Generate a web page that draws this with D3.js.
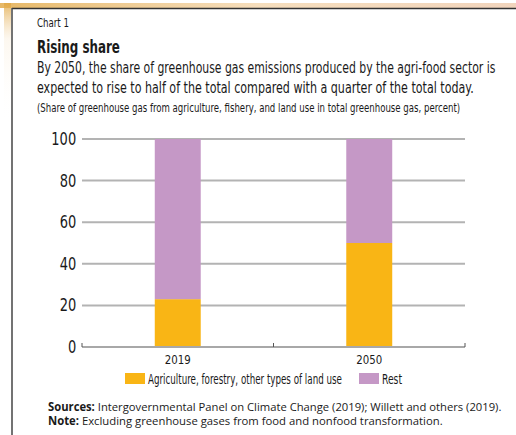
<!DOCTYPE html>
<html>
<head>
<meta charset="utf-8">
<script src="https://cdn.jsdelivr.net/npm/d3@7"></script>
<style>
  body { margin: 0; background: #fff; }
  svg { display: block; }
  text { font-family: "Liberation Sans Narrow", "DejaVu Sans Condensed", sans-serif; fill: #1a1a1a; }
</style>
</head>
<body>
<div id="app-chart"></div>
<script>
let years = ["2019", "2050"]
let agriculture = [23, 50]
let rest = [77, 50]
let seriesNames = ["Agriculture, forestry, other types of land use", "Rest"]
let yTicks = [0, 20, 40, 60, 80, 100]

let svgW = 516
let svgH = 435

let margin = { left: 82, right: 51, top: 139, bottom: 88 }
let chartW = svgW - margin.left - margin.right
let chartH = svgH - margin.top - margin.bottom

let color = d3.scaleOrdinal()
  .domain(seriesNames)
  .range(["#f9b515", "#c598c6"])

let data = years.map((y, i) => ({ year: y, [seriesNames[0]]: agriculture[i], [seriesNames[1]]: rest[i] }))
let stacked = d3.stack().keys(seriesNames)(data)

let x = d3.scaleBand()
  .domain(years)
  .range([0, chartW])
  .paddingInner(0.76)
  .paddingOuter(0.38)

let y = d3.scaleLinear()
  .domain([0, 100])
  .range([chartH, 0])

let svg = d3.select("#app-chart")
  .append("svg")
  .attr("width", svgW)
  .attr("height", svgH)

// scanned frame: orange glow and dark rule at top / left
let defs = svg.append("defs")
let gTop = defs.append("linearGradient").attr("id", "glowTop").attr("x1", 0).attr("x2", 1)
gTop.append("stop").attr("offset", "0").attr("stop-color", "#e0a640").attr("stop-opacity", 0.8)
gTop.append("stop").attr("offset", "0.5").attr("stop-color", "#f0c890").attr("stop-opacity", 0.6)
gTop.append("stop").attr("offset", "1").attr("stop-color", "#e8b890").attr("stop-opacity", 0.6)
let gLeft = defs.append("linearGradient").attr("id", "glowLeft").attr("x1", 0).attr("x2", 0).attr("y1", 0).attr("y2", 1)
gLeft.append("stop").attr("offset", "0").attr("stop-color", "#e0a640").attr("stop-opacity", 0.8)
gLeft.append("stop").attr("offset", "0.3").attr("stop-color", "#f3d9b0").attr("stop-opacity", 0.2)
gLeft.append("stop").attr("offset", "1").attr("stop-color", "#fff").attr("stop-opacity", 0)

svg.append("rect").attr("x", 0).attr("y", 3).attr("width", svgW).attr("height", 5).attr("fill", "url(#glowTop)")
svg.append("rect").attr("x", 4).attr("y", 3).attr("width", 7).attr("height", 120).attr("fill", "url(#glowLeft)")
svg.append("line").attr("x1", 12).attr("x2", svgW).attr("y1", 8.5).attr("y2", 8.5).attr("stroke", "#333").attr("stroke-width", 1.5)
svg.append("line").attr("x1", 12).attr("x2", 12).attr("y1", 8).attr("y2", svgH).attr("stroke", "#444").attr("stroke-width", 1.5)

// squeeze a text horizontally so it spans w pixels (condensed face of the original)
function fitText(sel, w) {
  let len = sel.node().getComputedTextLength()
  let x0 = +sel.attr("x"), y0 = +sel.attr("y")
  sel.attr("x", 0).attr("y", 0)
    .attr("transform", `translate(${x0},${y0}) scale(${(w / len).toFixed(4)},1)`)
}

svg.append("text").attr("x", 37).attr("y", 27).attr("font-size", 11.5).text("Chart 1").call(fitText, 32)
svg.append("text").attr("x", 37).attr("y", 53).attr("font-size", 18.5).attr("font-weight", "bold").text("Rising share").call(fitText, 83)
svg.append("text").attr("x", 37).attr("y", 73).attr("font-size", 15.5)
  .text("By 2050, the share of greenhouse gas emissions produced by the agri-food sector is").call(fitText, 459)
svg.append("text").attr("x", 37).attr("y", 93).attr("font-size", 15.5)
  .text("expected to rise to half of the total compared with a quarter of the total today.").call(fitText, 437)
svg.append("text").attr("x", 37).attr("y", 112).attr("font-size", 11.5)
  .text("(Share of greenhouse gas from agriculture, fishery, and land use in total greenhouse gas, percent)").call(fitText, 424)

let group = svg.append("g")
  .attr("transform", `translate(${margin.left},${margin.top})`)

// gridlines
group.append("g")
  .selectAll("line")
  .data(yTicks.filter(d => d > 0))
  .enter()
  .append("line")
  .attr("x1", 0)
  .attr("x2", chartW)
  .attr("y1", d => y(d))
  .attr("y2", d => y(d))
  .attr("stroke", "#b3b3b3")
  .attr("stroke-width", 2)

let yAxis = d3.axisLeft(y).tickValues(yTicks).tickSize(0).tickPadding(5)
group.append("g")
  .attr("class", "y axis")
  .call(yAxis)
  .call(g => g.select(".domain").remove())
  .selectAll("text")
  .attr("font-size", 17)
  .attr("font-family", "\"Liberation Sans Narrow\", \"DejaVu Sans Condensed\", sans-serif")
  .attr("fill", "#1a1a1a")
  .attr("transform", "translate(-5,0) scale(0.85,1)")
  .attr("x", -1)

// bars
group.selectAll(".series")
  .data(stacked)
  .enter()
  .append("g")
  .attr("class", "series")
  .attr("fill", d => color(d.key))
  .selectAll("rect")
  .data(d => d)
  .enter()
  .append("rect")
  .attr("x", d => x(d.data.year))
  .attr("width", x.bandwidth())
  .attr("y", d => y(d[1]))
  .attr("height", d => y(d[0]) - y(d[1]))

// x axis: baseline with short upward ticks at band edges
let xAxisG = group.append("g").attr("transform", `translate(0, ${chartH})`)
xAxisG.append("line")
  .attr("x1", 0).attr("x2", chartW).attr("y1", 0).attr("y2", 0)
  .attr("stroke", "#a8a8a8").attr("stroke-width", 2)
let edges = [0, chartW / 2, chartW]
xAxisG.selectAll(".edge")
  .data(edges)
  .enter()
  .append("line")
  .attr("x1", d => d).attr("x2", d => d)
  .attr("y1", -4).attr("y2", 0)
  .attr("stroke", "#555").attr("stroke-width", 1)
xAxisG.selectAll(".xl")
  .data(years)
  .enter()
  .append("text")
  .attr("x", d => x(d) + x.bandwidth() / 2 - 13)
  .attr("y", 17)
  .attr("font-size", 13)
  .text(d => d)
  .each(function () { d3.select(this).call(fitText, 26) })

// legend
let legend = svg.append("g").attr("transform", "translate(125, 373)")
let legendX = [0, 234]
let legendW = [194, 20]
seriesNames.forEach((name, i) => {
  legend.append("rect")
    .attr("x", legendX[i]).attr("y", 0)
    .attr("width", 20).attr("height", 11)
    .attr("fill", color(name))
  legend.append("text")
    .attr("x", legendX[i] + 23).attr("y", 11)
    .attr("font-size", 13.5)
    .text(name)
    .call(fitText, legendW[i])
})

// notes
let s1 = svg.append("text").attr("x", 48).attr("y", 411).attr("font-size", 11.5).style("font-family", "\"Open Sans\", sans-serif")
s1.append("tspan").attr("font-weight", "bold").text("Sources:")
s1.append("tspan").text(" Intergovernmental Panel on Climate Change (2019); Willett and others (2019).")
s1.call(fitText, 454)
let s2 = svg.append("text").attr("x", 48).attr("y", 425).attr("font-size", 11.5).style("font-family", "\"Open Sans\", sans-serif")
s2.append("tspan").attr("font-weight", "bold").text("Note:")
s2.append("tspan").text(" Excluding greenhouse gases from food and nonfood transformation.")
s2.call(fitText, 395)
</script>
</body>
</html>
